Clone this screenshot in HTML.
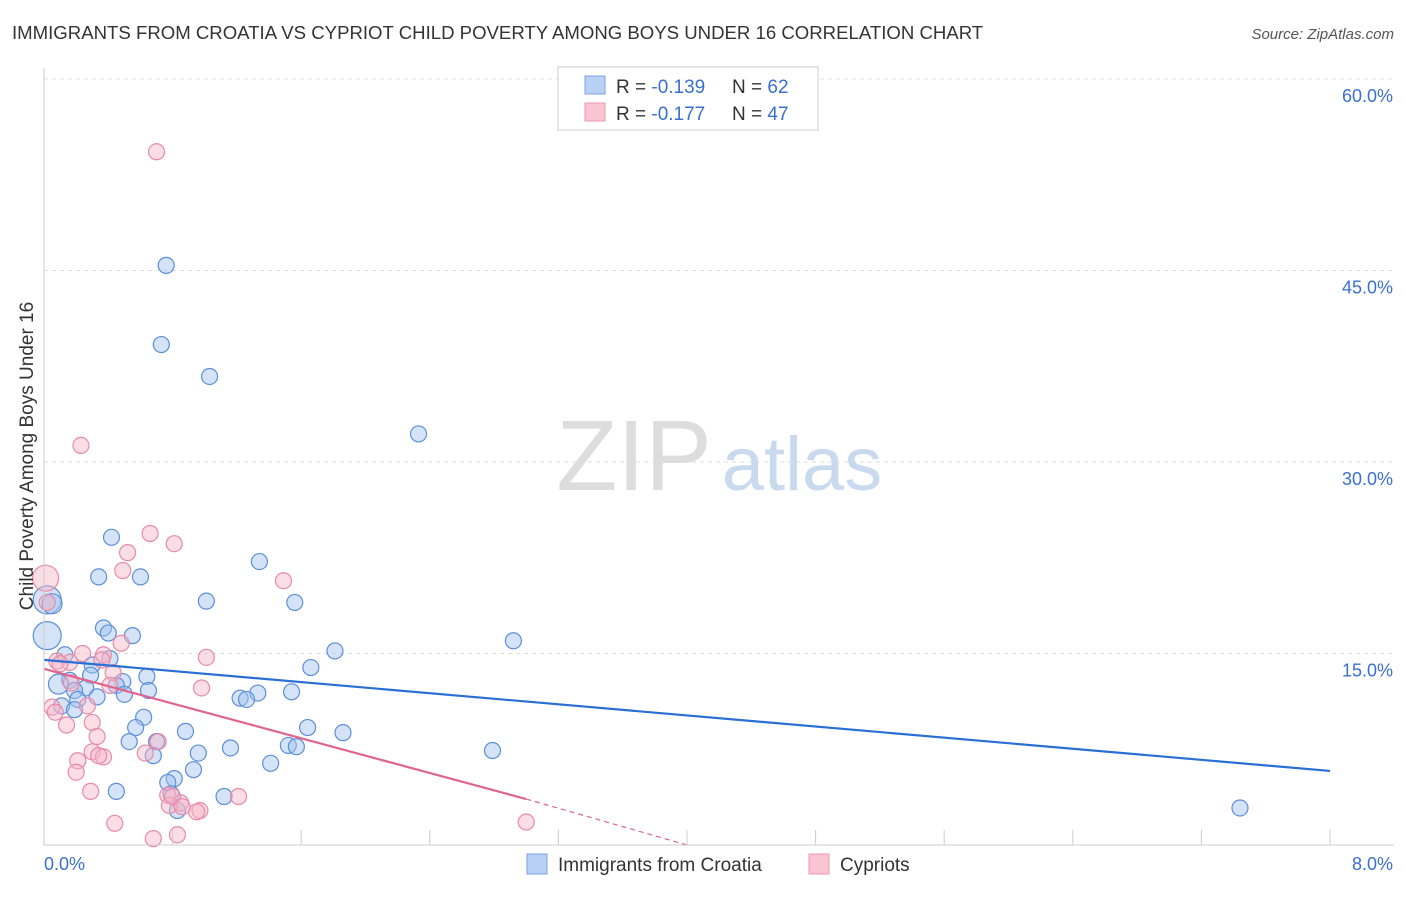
<!DOCTYPE html>
<html><head><meta charset="utf-8"><style>
body{margin:0;background:#fff;font-family:"Liberation Sans",sans-serif}
svg text{font-family:"Liberation Sans",sans-serif}
</style></head><body>
<svg id="chart" width="1406" height="892" viewBox="0 0 1406 892" xmlns="http://www.w3.org/2000/svg">
<text x="12" y="39" font-size="18.6" fill="#333">IMMIGRANTS FROM CROATIA VS CYPRIOT CHILD POVERTY AMONG BOYS UNDER 16 CORRELATION CHART</text>
<text x="1394" y="39" font-size="15" fill="#555" text-anchor="end" font-style="italic">Source: ZipAtlas.com</text>
<g id="grid"></g>
<g>
<text x="634" y="490" font-size="100" fill="#ddd" text-anchor="middle" font-family="Liberation Serif">ZIP</text>
<text x="802" y="490" font-size="76" fill="#c9d9ee" text-anchor="middle">atlas</text>
</g>
<g id="pts"></g>
<g id="lines"></g>
<g id="axes"></g>
<text transform="translate(33,456) rotate(-90)" font-size="19" fill="#333" text-anchor="middle">Child Poverty Among Boys Under 16</text>
<g>
<rect x="558" y="67" width="260" height="63" fill="#fff" stroke="#ccc"/>
<rect x="585" y="76" width="20" height="18" fill="#b8d0f3" stroke="#7aa3e0"/>
<rect x="585" y="103" width="20" height="18" fill="#f9c5d5" stroke="#ec96b0"/>
<text x="616" y="93" font-size="19" fill="#333">R = <tspan fill="#3a70d0">-0.139</tspan></text>
<text x="732" y="93" font-size="19" fill="#333">N = <tspan fill="#3a70d0">62</tspan></text>
<text x="616" y="120" font-size="19" fill="#333">R = <tspan fill="#3a70d0">-0.177</tspan></text>
<text x="732" y="120" font-size="19" fill="#333">N = <tspan fill="#3a70d0">47</tspan></text>
</g>
<g>
<rect x="527" y="854" width="20" height="20" fill="#b8d0f3" stroke="#7aa3e0"/>
<text x="558" y="871" font-size="19" fill="#333">Immigrants from Croatia</text>
<rect x="809" y="854" width="20" height="20" fill="#f9c5d5" stroke="#ec96b0"/>
<text x="840" y="871" font-size="19" fill="#333">Cypriots</text>
</g>
</svg>
<script>
const yTicks=[15,30,45,60];
const yTickLabels=["15.0%","30.0%","45.0%","60.0%"];
const xTickValues=[0,0.8,1.6,2.4,3.2,4.0,4.8,5.6,6.4,7.2,8.0];
const xEndLabels=["0.0%","8.0%"];
const croatiaX=[0.76,0.73,1.03,2.33,0.42,0.34,0.60,1.34,1.01,1.56,0.02,0.05,0.02,0.37,0.40,0.55,2.92,1.81,1.66,0.13,0.30,0.41,0.29,0.64,0.16,0.09,0.26,0.19,0.49,0.45,0.65,0.50,0.33,0.21,1.22,1.33,1.26,1.54,0.11,0.19,0.62,0.57,0.88,1.64,1.86,0.53,0.70,1.16,1.52,1.57,2.79,0.96,0.68,1.41,0.93,0.81,0.77,0.45,0.79,1.12,0.83,7.44];
const croatiaY=[45.4,39.2,36.7,32.2,24.1,21.0,21.0,22.2,19.1,19.0,19.2,18.9,16.4,17.0,16.6,16.4,16.0,15.2,13.9,14.9,14.1,14.6,13.3,13.2,12.9,12.6,12.3,12.1,12.8,12.5,12.1,11.8,11.6,11.4,11.5,11.9,11.4,12.0,10.9,10.6,10.0,9.2,8.9,9.2,8.8,8.1,8.1,7.6,7.8,7.7,7.4,7.2,7.0,6.4,5.9,5.2,4.9,4.2,4.0,3.8,2.7,2.9];
const croatiaSize=[8,8,8,8,8,8,8,8,8,8,14,10,14,8,8,8,8,8,8,8,8,8,8,8,8,10,8,8,8,8,8,8,8,8,8,8,8,8,8,8,8,8,8,8,8,8,8,8,8,8,8,8,8,8,8,8,8,8,8,8,8,8];
const cyprusX=[0.70,0.23,0.66,0.81,0.52,0.49,1.49,0.01,0.02,0.48,1.01,0.37,0.24,0.08,0.16,0.43,0.41,0.98,0.27,0.05,0.07,0.30,0.14,0.33,0.71,0.30,0.37,0.63,0.34,0.21,0.20,0.29,0.77,1.21,0.85,0.78,0.97,0.95,0.44,0.68,0.83,3.00,0.80,0.10,0.36,0.17,0.86];
const cyprusY=[54.3,31.3,24.4,23.6,22.9,21.5,20.7,20.9,19.0,15.8,14.7,14.9,15.0,14.4,14.3,13.5,12.5,12.3,10.9,10.8,10.4,9.6,9.4,8.5,8.1,7.3,6.9,7.2,7.0,6.6,5.7,4.2,3.9,3.8,3.3,3.1,2.7,2.6,1.7,0.5,0.8,1.8,3.8,14.2,14.5,12.7,3.0];
const croatiaTrend=[14.5,5.8];
const cyprusTrend=[13.8,3.6,0];
const cyprusTrendX=[0,3.0,4.0];

const X0=44,X1=1330,Y0=845,PXY=191.5/15;
const sx=v=>X0+(v/8)*(X1-X0);
const sy=v=>Y0-v*PXY;
const NS="http://www.w3.org/2000/svg";
function mk(tag,attrs,parent){const e=document.createElementNS(NS,tag);for(const k in attrs)e.setAttribute(k,attrs[k]);parent.appendChild(e);return e;}
const grid=document.getElementById('grid'),axes=document.getElementById('axes'),pts=document.getElementById('pts'),lines=document.getElementById('lines');
yTicks.forEach((t,i)=>{
 const g=mk('line',{x1:X0,x2:1394,y1:sy(t),y2:sy(t),stroke:'#ddd','stroke-dasharray':'4,4'},grid);
 
 
 const l=mk('text',{x:1393,y:sy(t)+23,'font-size':18,fill:'#3a70d0','text-anchor':'end'},axes);
 l.textContent=yTickLabels[i];
 
 
});
const ax=mk('line',{x1:X0,x2:X0,y1:68,y2:Y0,stroke:'#ccc'},axes);


const bx=mk('line',{x1:X0,x2:1394,y1:Y0,y2:Y0,stroke:'#ccc'},axes);


xTickValues.forEach(v=>{
 const t=mk('line',{x1:sx(v),x2:sx(v),y1:Y0,y2:Y0-15,stroke:'#ccc'},axes);
 
 
});
[[0,'start',44],[8,'end',1393]].forEach((a,i)=>{
 const l=mk('text',{x:a[2],y:870,'font-size':18,fill:'#3a70d0','text-anchor':a[1]},axes);
 l.textContent=xEndLabels[i];
 
 
});
croatiaX.forEach((x,i)=>{
 const c=mk('circle',{cx:sx(x),cy:sy(croatiaY[i]),r:croatiaSize[i],fill:'rgba(160,192,238,0.45)',stroke:'#5b8fd8','stroke-width':1.2},pts);
 
 
});
cyprusX.forEach((x,i)=>{
 const c=mk('circle',{cx:sx(x),cy:sy(cyprusY[i]),r:(i==7?13:8),fill:'rgba(246,180,200,0.45)',stroke:'#e88aa8','stroke-width':1.2},pts);
 
 
});
const bl=mk('line',{x1:sx(0),y1:sy(croatiaTrend[0]),x2:sx(8),y2:sy(croatiaTrend[1]),stroke:'#2a6fd6','stroke-width':2.2},lines);


const pl=mk('line',{x1:sx(cyprusTrendX[0]),y1:sy(cyprusTrend[0]),x2:sx(cyprusTrendX[1]),y2:sy(cyprusTrend[1]),stroke:'#e0648e','stroke-width':2.2},lines);


const pd=mk('line',{x1:sx(cyprusTrendX[1]),y1:sy(cyprusTrend[1]),x2:sx(cyprusTrendX[2]),y2:sy(cyprusTrend[2]),stroke:'#e0648e','stroke-width':1.2,'stroke-dasharray':'5,4'},lines);


</script>
</body></html>
